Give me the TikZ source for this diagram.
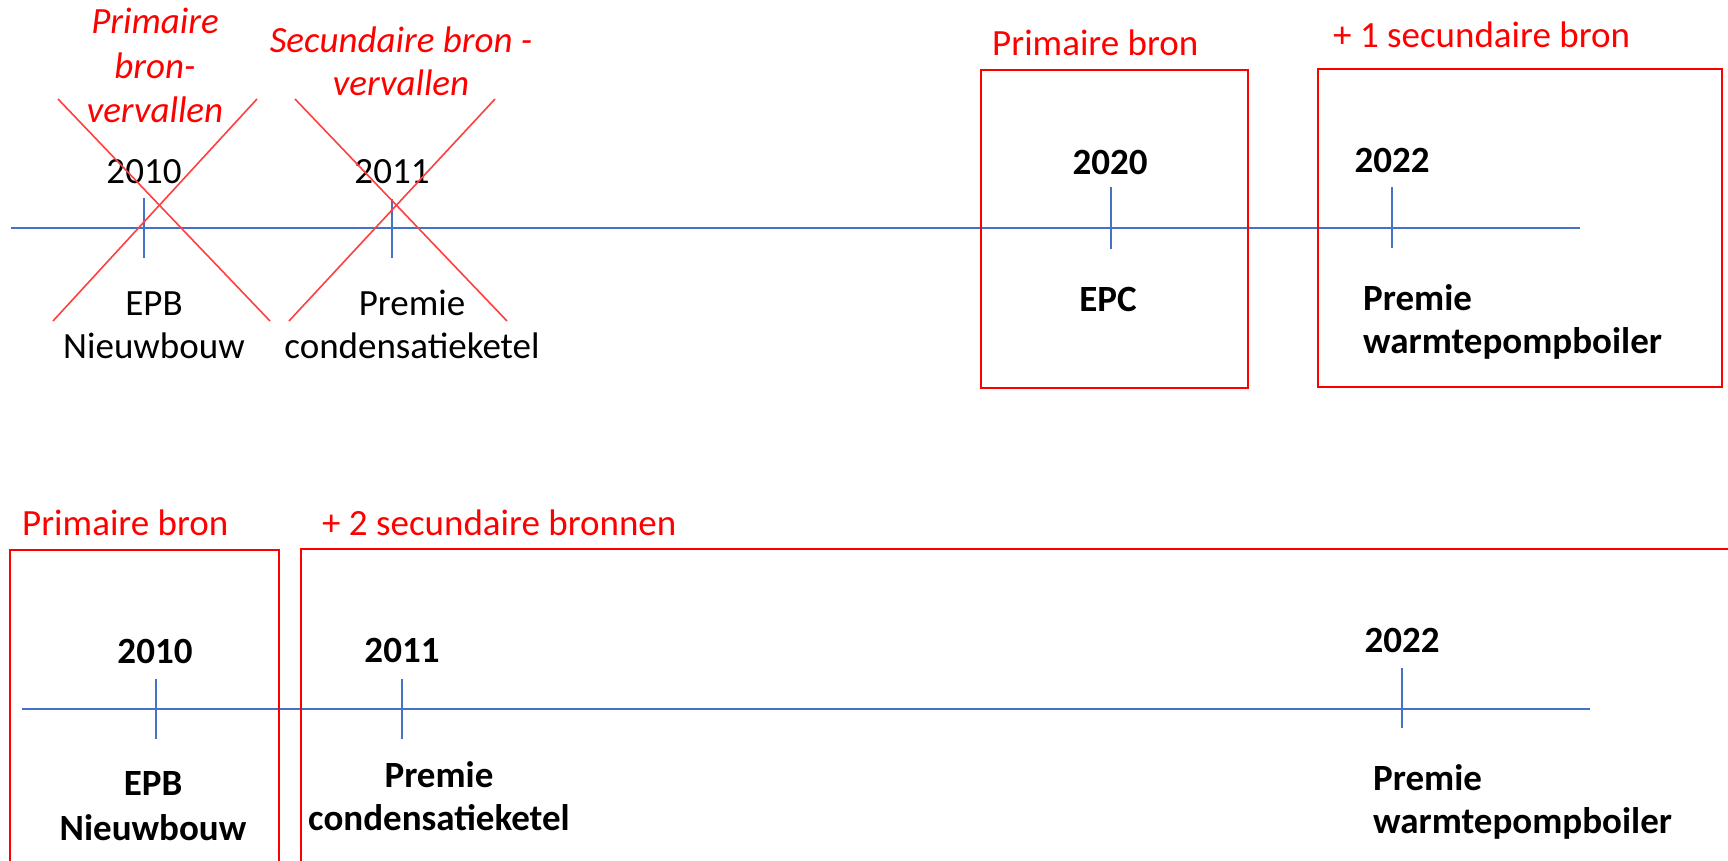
\documentclass[tikz,border=0pt]{standalone}
\usepackage{fontspec}
\setmainfont{Carlito}
\definecolor{tlblue}{HTML}{4472C4}
\definecolor{mred}{HTML}{FF0000}
\begin{document}
\begin{tikzpicture}[x=1pt,y=-1pt,
  txt/.style={inner sep=0pt,anchor=base,font=\fontsize{37}{44}\selectfont},
  btxt/.style={txt,font=\fontsize{37}{44}\selectfont\bfseries},
  rtxt/.style={txt,text=mred},
  ritxt/.style={txt,text=mred,font=\fontsize{37}{44}\selectfont\itshape},
  axis/.style={draw=tlblue,line width=1.8pt},
  tick/.style={draw=tlblue,line width=1.8pt},
  frame/.style={draw=mred,line width=1.8pt},
  cross/.style={draw=mred!75,line width=1.6pt}]
\useasboundingbox (0,0) rectangle (1728,860);
\fill[white] (0,0) rectangle (1728,860);

% ---------- top timeline ----------
\coordinate (ta) at (11,228);
\coordinate (tb) at (1580,228);
\draw[axis] (ta) -- (tb);
\coordinate (t1a) at (144,198); \coordinate (t1b) at (144,258);
\coordinate (t2a) at (392,199); \coordinate (t2b) at (392,258);
\coordinate (t3a) at (1111,187); \coordinate (t3b) at (1111,249);
\coordinate (t4a) at (1392,187); \coordinate (t4b) at (1392,248);
\draw[tick] (t1a) -- (t1b);
\draw[tick] (t2a) -- (t2b);
\draw[tick] (t3a) -- (t3b);
\draw[tick] (t4a) -- (t4b);

\node[txt] (y2010) at (144,183) {2010};
\node[txt] (y2011) at (392,183) {2011};
\node[btxt] (y2020) at (1110,174) {2020};
\node[btxt] (y2022) at (1392,172) {2022};

\node[txt] (epb1) at (154,315) {EPB};
\node[txt] (epb2) at (154,358) {Nieuwbouw};
\node[txt] (pc1) at (412,315) {Premie};
\node[txt] (pc2) at (412,358) {condensatieketel};
\node[btxt] (epc) at (1108,311) {EPC};
\node[btxt,anchor=base west] (pw1) at (1363,310) {Premie};
\node[btxt,anchor=base west] (pw2) at (1363,353) {warmtepompboiler};

% red crosses
\coordinate (x1a) at (58,99); \coordinate (x1b) at (270,321);
\coordinate (x1c) at (257,99); \coordinate (x1d) at (53,321);
\coordinate (x2a) at (295,99); \coordinate (x2b) at (507,321);
\coordinate (x2c) at (495,99); \coordinate (x2d) at (289,321);
\draw[cross] (x1a) -- (x1b);
\draw[cross] (x1c) -- (x1d);
\draw[cross] (x2a) -- (x2b);
\draw[cross] (x2c) -- (x2d);

\node[ritxt] (pv1) at (155,33) {Primaire};
\node[ritxt] (pv2) at (155,78) {bron-};
\node[ritxt] (pv3) at (155,122) {vervallen};
\node[ritxt] (sv1) at (401,52) {Secundaire bron -};
\node[ritxt] (sv2) at (401,95) {vervallen};

% boxes top
\draw[frame] (981,70) rectangle (1248,388);
\draw[frame] (1318,69) rectangle (1722,387);
\node[rtxt,anchor=base west] (pb1) at (992,55) {Primaire bron};
\node[rtxt,anchor=base west] (sb1) at (1333,47) {+ 1 secundaire bron};

% ---------- bottom timeline ----------
\coordinate (ba) at (22,709);
\coordinate (bb) at (1590,709);
\draw[axis] (ba) -- (bb);
\coordinate (b1a) at (156,679); \coordinate (b1b) at (156,739);
\coordinate (b2a) at (402,679); \coordinate (b2b) at (402,739);
\coordinate (b3a) at (1402,668); \coordinate (b3b) at (1402,728);
\draw[tick] (b1a) -- (b1b);
\draw[tick] (b2a) -- (b2b);
\draw[tick] (b3a) -- (b3b);

\node[btxt] (z2010) at (155,663) {2010};
\node[btxt] (z2011) at (402,662) {2011};
\node[btxt] (z2022) at (1402,652) {2022};

\node[btxt] (bepb1) at (153,795) {EPB};
\node[btxt] (bepb2) at (153,840) {Nieuwbouw};
\node[btxt] (bpc1) at (439,787) {Premie};
\node[btxt] (bpc2) at (439,830) {condensatieketel};
\node[btxt,anchor=base west] (bpw1) at (1373,790) {Premie};
\node[btxt,anchor=base west] (bpw2) at (1373,833) {warmtepompboiler};

% boxes bottom (open at page edges)
\draw[frame] (10,861) -- (10,550) -- (279,550) -- (279,861);
\draw[frame] (301,861) -- (301,549) -- (1729,549);
\node[rtxt,anchor=base west] (pb2) at (22,535) {Primaire bron};
\node[rtxt,anchor=base west] (sb2) at (322,535) {+ 2 secundaire bronnen};
\end{tikzpicture}
\end{document}
